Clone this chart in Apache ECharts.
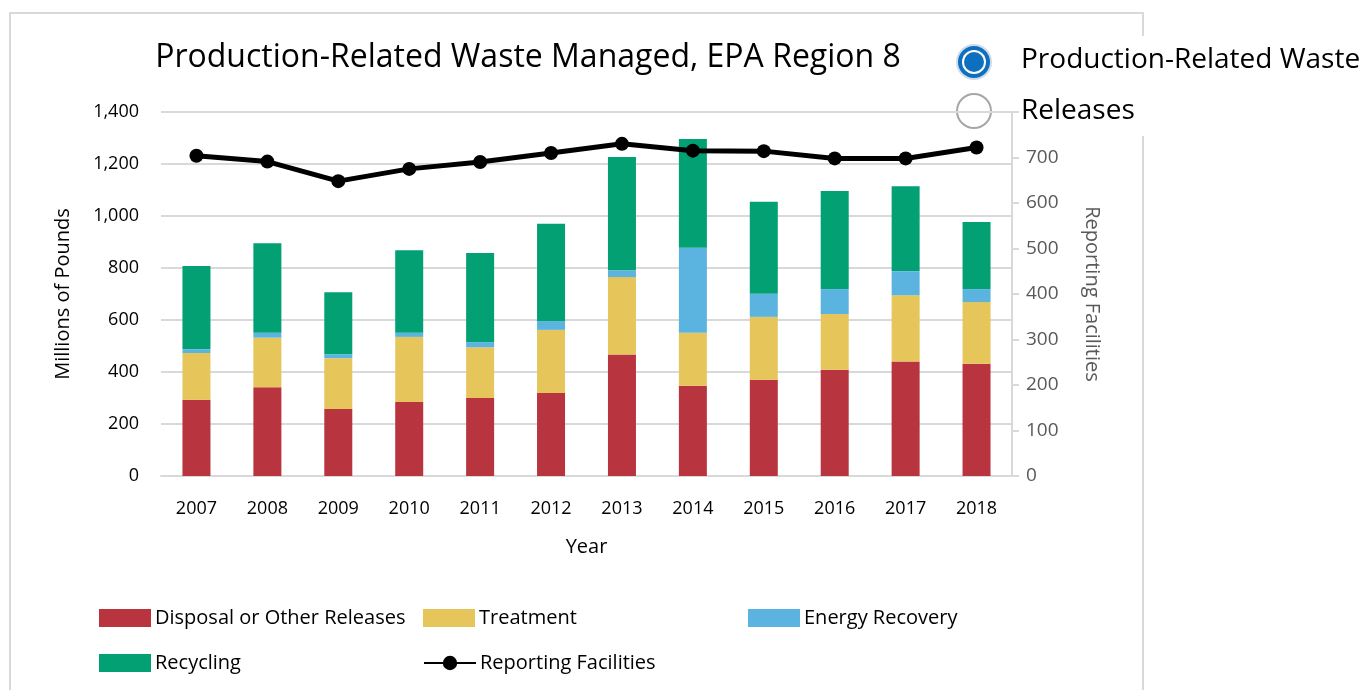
<!DOCTYPE html>
<html lang="en">
<head>
    <meta charset="UTF-8">
    <title>Production-Related Waste Managed</title>
    <script src="https://cdn.jsdelivr.net/npm/echarts@6/dist/echarts.min.js"></script>
    <style>
        html, body { margin: 0; padding: 0; background: #fff; }
    </style>
</head>
<body>
<div id="main" style="position: absolute;width: 1361px;height: 690px;top:0;left:0"></div>
</body>
<script>
    var years = ['2007', '2008', '2009', '2010', '2011', '2012', '2013', '2014', '2015', '2016', '2017', '2018'];

    // millions of pounds
    var disposal = [293, 341, 258, 285, 300, 319, 467, 347, 370, 409, 440, 432];
    var treatment = [180, 191, 195, 250, 195, 243, 298, 204, 242, 214, 255, 237];
    var energy = [15, 19, 15, 16, 20, 34, 26, 327, 89, 96, 93, 50];
    var recycling = [320, 344, 239, 317, 343, 374, 436, 418, 354, 377, 326, 258];

    // number of facilities
    var facilities = [704, 691, 648, 675, 690, 710, 730, 715, 714, 698, 698, 722];

    var font = 'Open Sans';
    var myChart = echarts.init(document.getElementById('main'));

    var barSeries = function (name, data, color) {
        return {
            name: name,
            type: 'bar',
            stack: 'waste',
            data: data,
            barWidth: 28,
            itemStyle: { color: color },
            emphasis: { disabled: true }
        };
    };

    var legendItem = function (name, left, top, icon) {
        var item = {
            data: [name],
            left: left,
            top: top,
            padding: 0,
            itemWidth: 52,
            itemHeight: 18,
            itemGap: 0,
            textStyle: { fontFamily: font, fontSize: 20, color: '#000', padding: [0, 0, 0, -1] },
            selectedMode: false
        };
        if (icon) item.icon = icon;
        return item;
    };

    var option = {
        backgroundColor: '#fff',
        animation: false,
        textStyle: { fontFamily: font },
        title: {
            text: 'Production-Related Waste Managed, EPA Region 8',
            left: 523,
            textAlign: 'center',
            top: 37,
            textStyle: { fontFamily: font, fontSize: 32, fontWeight: 'normal', color: '#000' }
        },
        grid: { left: 161, right: 349, top: 112, bottom: 214 },
        legend: [
            legendItem('Disposal or Other Releases', 99, 608, 'rect'),
            legendItem('Treatment', 423, 608, 'rect'),
            legendItem('Energy Recovery', 748, 608, 'rect'),
            legendItem('Recycling', 99, 653, 'rect'),
            legendItem('Reporting Facilities', 423, 653)
        ],
        xAxis: {
            type: 'category',
            data: years,
            name: 'Year',
            nameLocation: 'middle',
            nameGap: 61,
            nameTextStyle: { fontFamily: font, fontSize: 20, color: '#000' },
            axisLine: { lineStyle: { color: '#d9d9d9', width: 2 } },
            axisTick: { show: false },
            axisLabel: { fontFamily: font, fontSize: 18, color: '#000', margin: 24 }
        },
        yAxis: [{
            type: 'value',
            min: 0,
            max: 1400,
            interval: 200,
            name: 'Millions of Pounds',
            nameLocation: 'middle',
            nameGap: 88,
            nameTextStyle: { fontFamily: font, fontSize: 20, color: '#000' },
            axisLine: { show: false },
            axisTick: { show: false },
            axisLabel: {
                fontFamily: font, fontSize: 18, color: '#000', margin: 22,
                formatter: function (v) { return v.toLocaleString('en-US'); }
            },
            splitLine: { lineStyle: { color: '#d9d9d9', width: 2 } }
        }, {
            type: 'value',
            min: 0,
            max: 800,
            interval: 100,
            position: 'right',
            name: 'Reporting Facilities',
            nameLocation: 'middle',
            nameGap: 70,
            nameRotate: -90,
            nameTextStyle: { fontFamily: font, fontSize: 20, color: '#595959' },
            axisLine: { show: true, lineStyle: { color: '#d9d9d9', width: 2 } },
            axisTick: { show: true, length: 7, lineStyle: { color: '#d9d9d9', width: 2 } },
            axisLabel: {
                fontFamily: font, fontSize: 19, color: '#595959', margin: 14,
                formatter: function (v) { return v === 800 ? '' : String(v); }
            },
            splitLine: { show: false }
        }],
        series: [
            barSeries('Disposal or Other Releases', disposal, '#b8343f'),
            barSeries('Treatment', treatment, '#e6c65a'),
            barSeries('Energy Recovery', energy, '#5ab4df'),
            barSeries('Recycling', recycling, '#03a074'),
            {
                name: 'Reporting Facilities',
                type: 'line',
                yAxisIndex: 1,
                data: facilities,
                symbol: 'circle',
                symbolSize: 14,
                lineStyle: { color: '#000', width: 5 },
                itemStyle: { color: '#000' },
                emphasis: { disabled: true },
                z: 5
            }
        ],
        graphic: [
            // outer frame
            {
                type: 'rect',
                shape: { x: 10, y: 13, width: 1133, height: 700 },
                style: { fill: 'none', stroke: '#d9d9d9', lineWidth: 2 },
                silent: true,
                z: -10
            },
            // radio buttons
            {
                type: 'group',
                z: 100,
                children: [
                    { type: 'rect', shape: { x: 950, y: 36, width: 411, height: 100 }, style: { fill: '#fff' } },
                    { type: 'circle', shape: { cx: 974, cy: 62, r: 18 }, style: { fill: '#cfdbe8' } },
                    { type: 'circle', shape: { cx: 974, cy: 62, r: 16 }, style: { fill: '#0f6fbf' } },
                    { type: 'circle', shape: { cx: 974, cy: 62, r: 12 }, style: { fill: '#fff' } },
                    { type: 'circle', shape: { cx: 974, cy: 62, r: 10 }, style: { fill: '#0f6fbf' } },
                    { type: 'text', x: 1021, y: 60, style: { text: 'Production-Related Waste', font: '28px "Open Sans"', fill: '#000', verticalAlign: 'middle' } },
                    { type: 'circle', shape: { cx: 974, cy: 111, r: 17 }, style: { fill: '#fff', stroke: '#a6a6a6', lineWidth: 2 } },
                    { type: 'text', x: 1021, y: 111, style: { text: 'Releases', font: '28px "Open Sans"', fill: '#000', verticalAlign: 'middle' } }
                ]
            }
        ]
    };

    myChart.setOption(option);
</script>
</html>
